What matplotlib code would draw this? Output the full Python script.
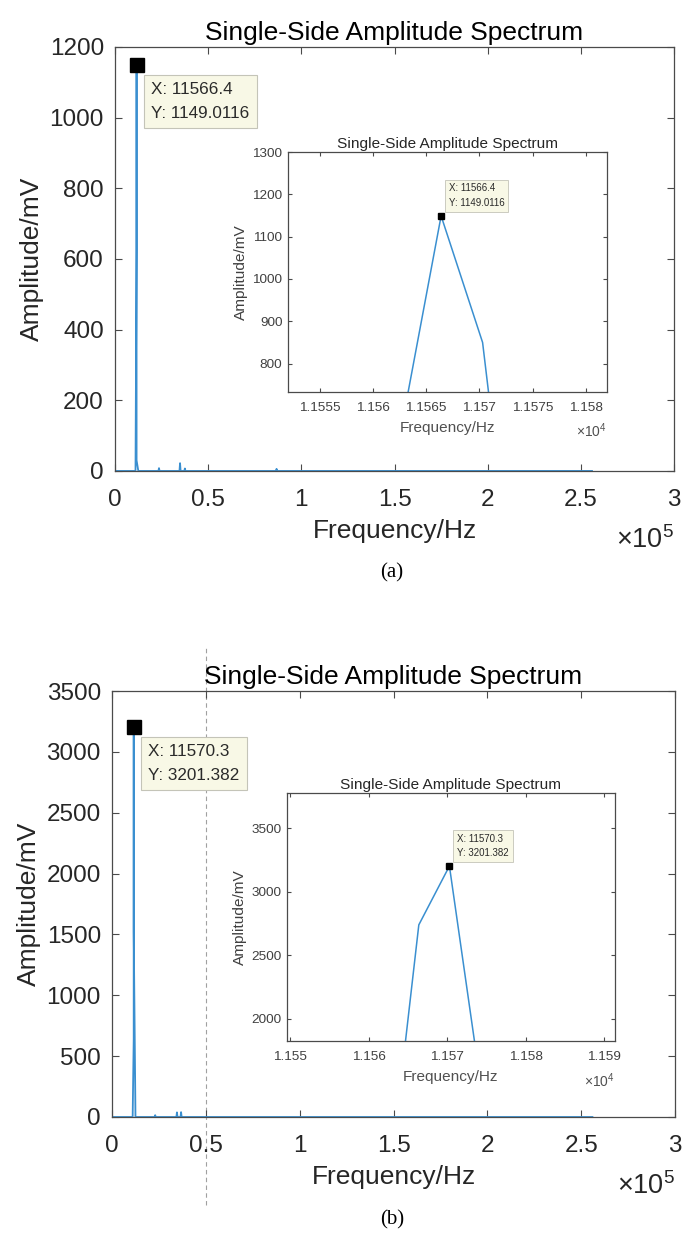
import matplotlib
matplotlib.use("Agg")
import matplotlib.pyplot as plt
from matplotlib.ticker import FuncFormatter, MultipleLocator

plt.rcParams['font.family'] = ['Liberation Sans', 'DejaVu Sans']
plt.rcParams['mathtext.fontset'] = 'custom'
plt.rcParams['mathtext.rm'] = 'Liberation Sans'
plt.rcParams['mathtext.default'] = 'regular'

# spectrum (a), points (Hz, mV)
freq_a = [0, 11000, 11562.5, 11566.4, 11570.3, 11574.2, 12500, 23300, 23600, 23900,
          34600, 34900, 35200, 37200, 37500, 37800, 86400, 86700, 87000, 256000]
amp_a = [0, 0, 626, 1149.0116, 850, 30, 0, 0, 8, 0,
         0, 22, 0, 0, 7, 0, 0, 6, 0, 0]
peak_a = (11566.4, 1149.0116)
tip_a = 'X: 11566.4\nY: 1149.0116'

# spectrum (b)
freq_b = [0, 11000, 11562.5, 11566.4, 11570.3, 11574.2, 12500, 22700, 23000, 23300,
          34300, 34600, 34900, 36500, 36800, 37100, 256000]
amp_b = [0, 0, 640, 2739, 3201.382, 1520, 0, 0, 15, 0,
         0, 38, 0, 0, 40, 0, 0]
peak_b = (11570.3, 3201.382)
tip_b = 'X: 11570.3\nY: 3201.382'

main_xticks = [0, 0.5e5, 1e5, 1.5e5, 2e5, 2.5e5, 3e5]

LINE = '#3a8fd0'
TXT = '#262626'
AX = '#4a4a4a'
TIP_FC = '#F8F8E6'
TIP_EC = '#C4C4B8'

fig = plt.figure(figsize=(6.83, 12.4), dpi=100)


def style(ax, size, tick_len, pad_x, pad_y, color):
    ax.tick_params(which='both', direction='in', top=True, right=True,
                   length=tick_len, width=0.8, color=AX, labelsize=size,
                   labelcolor=color)
    ax.tick_params(axis='x', pad=pad_x)
    ax.tick_params(axis='y', pad=pad_y)
    for s in ax.spines.values():
        s.set_color(AX)
        s.set_linewidth(0.9)


def panel(main_rect, inset_rect, freq, amp, peak, tip, ymax, ystep,
          ins_xlim, ins_ylim, ins_xstep, ins_ystep, letter, letter_y):
    ax = fig.add_axes(main_rect)
    ax.plot(freq, amp, color=LINE, lw=1.3, zorder=2)
    ax.plot([peak[0]], [peak[1]], 's', color='black', ms=9.5, zorder=3)
    ax.annotate(tip, xy=peak, xytext=(10.5, -12), textcoords='offset points',
                ha='left', va='top', fontsize=12.3, linespacing=1.75, color='#2a2a2a',
                bbox=dict(boxstyle='square,pad=0.42', fc=TIP_FC, ec=TIP_EC, lw=0.8),
                zorder=4)
    ax.set_xlim(0, 3e5)
    ax.set_ylim(0, ymax)
    ax.set_xticks(main_xticks)
    ax.yaxis.set_major_locator(MultipleLocator(ystep))
    ax.xaxis.set_major_formatter(FuncFormatter(lambda v, p: f'{v / 1e5:g}'))
    style(ax, 17.5, 5, 13, 8, TXT)
    ax.set_title('Single-Side Amplitude Spectrum', fontsize=19, color='black', pad=5)
    ax.set_xlabel('Frequency/Hz', fontsize=19, color=TXT, labelpad=6)
    ax.set_ylabel('Amplitude/mV', fontsize=19, color=TXT, labelpad=4)
    ax.text(1.0, -0.163, r'$\times10^{5}$', transform=ax.transAxes, ha='right',
            va='center', fontsize=19.5, color=TXT)

    ins = fig.add_axes(inset_rect, zorder=5)
    ins.plot(freq, amp, color=LINE, lw=1.1, zorder=2)
    ins.plot([peak[0]], [peak[1]], 's', color='black', ms=4.8, zorder=3)
    ins.annotate(tip, xy=peak, xytext=(5.5, 5.5), textcoords='offset points',
                 ha='left', va='bottom', fontsize=7, linespacing=1.6, color='#2a2a2a',
                 bbox=dict(boxstyle='square,pad=0.4', fc=TIP_FC, ec=TIP_EC, lw=0.6),
                 zorder=4)
    ins.set_xlim(*ins_xlim)
    ins.set_ylim(*ins_ylim)
    ins.xaxis.set_major_locator(MultipleLocator(ins_xstep))
    ins.yaxis.set_major_locator(MultipleLocator(ins_ystep))
    ins.xaxis.set_major_formatter(FuncFormatter(lambda v, p: f'{v / 1e4:g}'))
    style(ins, 9.7, 3, 7, 4, '#404040')
    ins.set_title('Single-Side Amplitude Spectrum', fontsize=11.1, color=TXT, pad=3)
    ins.set_xlabel('Frequency/Hz', fontsize=11.1, color='#505050', labelpad=5)
    ins.set_ylabel('Amplitude/mV', fontsize=11.1, color='#404040', labelpad=3)
    ins.text(1.0, -0.16, r'$\times10^{4}$', transform=ins.transAxes, ha='right',
             va='center', fontsize=10, color='#505050')

    fig.text(0.574, letter_y, letter, ha='center', va='center', fontsize=15,
             family=['Liberation Serif', 'DejaVu Serif'])
    return ax


panel([0.1684, 0.6202, 0.8184, 0.3419], [0.4217, 0.6839, 0.4670, 0.1935],
      freq_a, amp_a, peak_a, tip_a, 1200, 200,
      (11552, 11582), (733, 1300), 5, 100, '(a)', 1 - 573 / 1240)

ax_b = panel([0.1640, 0.0992, 0.8243, 0.3435], [0.4202, 0.1605, 0.4802, 0.2000],
             freq_b, amp_b, peak_b, tip_b, 3500, 500,
             (11549.6, 11591.4), (1826, 3776), 10, 500, '(b)', 1 - 1220 / 1240)

# stray dashed guide line seen in panel (b)
ax_b.axvline(0.5e5, ymin=-0.207, ymax=1.108, clip_on=False, color='#a0a0a0',
             lw=0.8, dashes=(4, 3), zorder=0)

fig.savefig('out.png', dpi=100)
